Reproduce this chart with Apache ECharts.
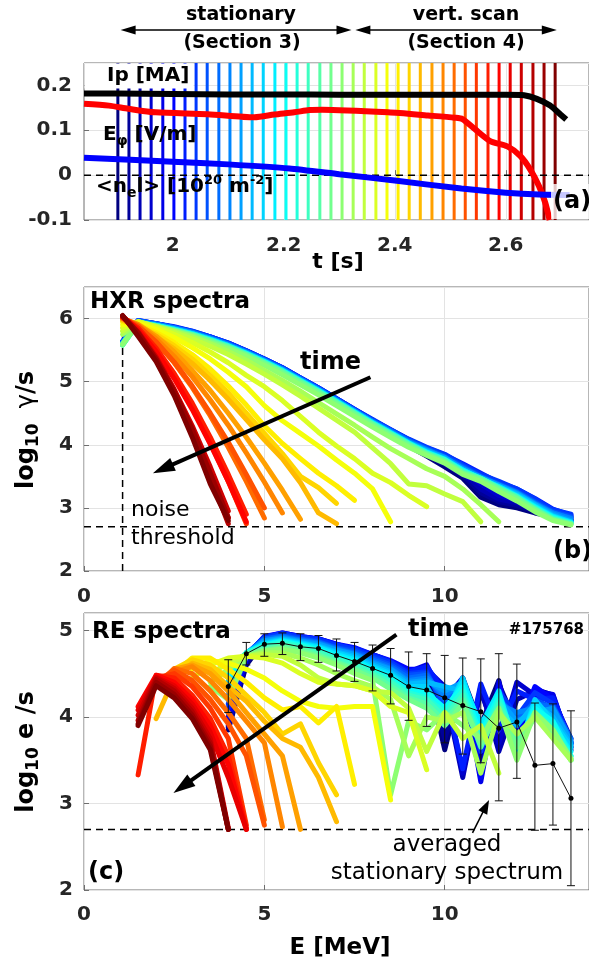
<!DOCTYPE html>
<html>
<head>
<meta charset="utf-8">
<script src="https://cdn.jsdelivr.net/npm/echarts@6/dist/echarts.min.js"></script>
<style>
  html, body { margin: 0; padding: 0; background: #fff; }
  #chart { width: 589px; height: 965px; }
</style>
</head>
<body>
<div id="chart"></div>
<script>
// ---------- (a) time traces ----------
const sampleTimes = [1.901, 1.921, 1.941, 1.961, 1.982, 2.002, 2.022, 2.042, 2.062, 2.083,
  2.103, 2.123, 2.143, 2.163, 2.184, 2.204, 2.224, 2.244, 2.265, 2.285,
  2.305, 2.325, 2.345, 2.366, 2.386, 2.406, 2.426, 2.446, 2.467, 2.487,
  2.507, 2.527, 2.547, 2.568, 2.588, 2.608, 2.628, 2.649, 2.669, 2.689];

const ipTime = [1.84, 1.90, 2.00, 2.10, 2.20, 2.30, 2.40, 2.50, 2.60, 2.633, 2.656, 2.680, 2.698, 2.709];
const ipVal  = [0.182, 0.182, 0.181, 0.180, 0.180, 0.179, 0.179, 0.179, 0.179, 0.178, 0.170, 0.155, 0.136, 0.124];

const efTime = [1.84, 1.885, 1.92, 1.969, 2.063, 2.147, 2.183, 2.219, 2.246, 2.269, 2.388, 2.46, 2.508, 2.522, 2.544, 2.572, 2.603, 2.626, 2.644, 2.66, 2.671, 2.679];
const efVal  = [0.159, 0.155, 0.148, 0.140, 0.136, 0.129, 0.135, 0.140, 0.145, 0.146, 0.140, 0.133, 0.128, 0.125, 0.103, 0.076, 0.064, 0.043, 0.013, -0.025, -0.061, -0.100];

const neTime = [1.84, 2.00, 2.10, 2.21, 2.30, 2.40, 2.52, 2.60, 2.66, 2.715];
const neVal  = [0.039, 0.030, 0.024, 0.015, 0.002, -0.012, -0.030, -0.039, -0.043, -0.044];

const stationaryRange = [1.906, 2.322];
const scanRange = [2.329, 2.692];

// ---------- (b) HXR spectra: log10 photons/s on a shared energy grid ----------
const hxrEnergy = [1.07, 1.5, 2, 2.5, 3, 3.5, 4, 4.5, 5, 5.5, 6, 6.5, 7, 7.5, 8, 8.5, 9, 9.5, 10, 10.5, 11, 11.5, 12, 12.5, 13, 13.5];
const hxrLog = [
  [5.62,5.95,5.88,5.82,5.75,5.66,5.55,5.43,5.30,5.16,5.00,4.84,4.67,4.50,4.32,4.15,3.98,3.82,3.65,3.47,3.17,3.05,3.00,2.92,2.86,2.82],
  [5.60,5.94,5.89,5.83,5.76,5.67,5.56,5.44,5.31,5.17,5.01,4.85,4.68,4.51,4.33,4.17,4.00,3.85,3.69,3.52,3.24,3.10,3.04,2.95,2.87,2.80],
  [5.61,5.95,5.89,5.83,5.76,5.67,5.57,5.45,5.32,5.18,5.02,4.86,4.69,4.52,4.35,4.18,4.02,3.87,3.72,3.56,3.30,3.14,3.08,2.97,2.86,2.78],
  [5.62,5.96,5.90,5.84,5.77,5.68,5.58,5.46,5.33,5.19,5.03,4.87,4.70,4.53,4.36,4.19,4.03,3.89,3.75,3.60,3.38,3.20,3.12,3.00,2.88,2.80],
  [5.63,5.96,5.91,5.86,5.79,5.70,5.60,5.48,5.35,5.21,5.05,4.89,4.72,4.55,4.38,4.22,4.07,3.93,3.80,3.66,3.50,3.35,3.24,3.08,2.93,2.84],
  [5.63,5.96,5.92,5.86,5.79,5.71,5.61,5.49,5.36,5.22,5.06,4.90,4.73,4.56,4.39,4.23,4.08,3.94,3.82,3.68,3.52,3.38,3.28,3.12,2.96,2.86],
  [5.64,5.97,5.92,5.87,5.80,5.71,5.61,5.49,5.36,5.22,5.06,4.90,4.73,4.56,4.39,4.24,4.08,3.95,3.84,3.70,3.55,3.40,3.30,3.15,2.98,2.88],
  [5.63,5.97,5.92,5.86,5.80,5.71,5.61,5.49,5.36,5.22,5.06,4.90,4.73,4.56,4.40,4.24,4.09,3.96,3.85,3.68,3.53,3.42,3.30,3.14,2.97,2.90],
  [5.62,5.96,5.92,5.86,5.79,5.70,5.60,5.48,5.35,5.21,5.05,4.89,4.72,4.55,4.38,4.23,4.07,3.94,3.82,3.66,3.50,3.38,3.26,3.10,2.94,2.86],
  [5.62,5.96,5.91,5.85,5.78,5.69,5.59,5.47,5.34,5.20,5.04,4.88,4.71,4.54,4.37,4.22,4.06,3.93,3.80,3.64,3.49,3.37,3.25,3.08,2.92,2.84],
  [5.61,5.95,5.91,5.85,5.78,5.69,5.59,5.47,5.34,5.20,5.04,4.88,4.71,4.54,4.37,4.21,4.05,3.92,3.79,3.63,3.49,3.36,3.24,3.07,2.92,2.83],
  [5.61,5.95,5.90,5.84,5.77,5.68,5.58,5.46,5.33,5.19,5.03,4.87,4.70,4.53,4.36,4.20,4.04,3.91,3.80,3.62,3.48,3.36,3.23,3.06,2.90,2.80],
  [5.60,5.94,5.89,5.83,5.76,5.67,5.57,5.45,5.32,5.18,5.02,4.86,4.69,4.52,4.35,4.19,4.03,3.90,3.78,3.60,3.46,3.34,3.22,3.05,2.88,2.78],
  [5.60,5.94,5.89,5.83,5.76,5.67,5.57,5.45,5.32,5.18,5.02,4.86,4.69,4.52,4.35,4.19,4.03,3.89,3.77,3.60,3.46,3.33,3.20,3.03,2.87,2.78],
  [5.60,5.94,5.89,5.83,5.76,5.67,5.57,5.45,5.32,5.18,5.02,4.86,4.69,4.52,4.35,4.19,4.03,3.88,3.76,3.60,3.46,3.34,3.19,3.02,2.86,2.77],
  [5.59,5.94,5.89,5.82,5.75,5.66,5.56,5.44,5.31,5.17,5.01,4.85,4.68,4.51,4.34,4.18,4.02,3.88,3.77,3.59,3.47,3.32,3.18,3.01,2.85,2.76],
  [5.59,5.93,5.89,5.82,5.75,5.66,5.56,5.44,5.31,5.17,5.01,4.85,4.68,4.51,4.34,4.18,4.02,3.87,3.76,3.58,3.46,3.31,3.17,3.00,2.84,2.76],
  [5.58,5.93,5.88,5.82,5.75,5.66,5.56,5.43,5.30,5.16,5.00,4.84,4.67,4.50,4.33,4.17,4.01,3.87,3.76,3.58,3.47,3.32,3.18,2.99,2.83,2.75],
  [5.58,5.93,5.88,5.81,5.74,5.65,5.55,5.43,5.30,5.16,5.00,4.84,4.67,4.50,4.33,4.17,4.01,3.86,3.74,3.56,3.46,3.31,3.16,2.98,2.82,2.75],
  [5.58,5.93,5.88,5.81,5.74,5.64,5.54,5.42,5.29,5.14,4.98,4.82,4.65,4.48,4.31,4.15,3.99,3.85,3.73,3.55,3.45,3.29,3.15,2.97,2.81,2.74],
  [5.60,5.93,5.87,5.80,5.72,5.62,5.52,5.40,5.26,5.11,4.95,4.79,4.62,4.45,4.28,4.12,3.96,3.83,3.71,3.53,3.42,3.26,3.11,2.94,2.80,2.73],
  [5.75,5.95,5.88,5.80,5.71,5.60,5.48,5.34,5.18,5.02,4.85,4.67,4.49,4.31,4.12,3.94,3.78,3.62,3.50,3.30,3.05,2.78],
  [5.80,5.95,5.87,5.78,5.68,5.56,5.43,5.28,5.12,4.95,4.77,4.58,4.39,4.20,3.95,3.70,3.38,3.35,3.22,3.10,2.78],
  [5.85,5.95,5.86,5.75,5.62,5.47,5.30,5.10,4.92,4.70,4.45,4.20,3.98,3.78,3.55,3.40,3.20,3.02],
  [5.90,5.93,5.83,5.70,5.54,5.36,5.15,4.92,4.62,4.38,4.18,3.98,3.76,3.55,3.30,2.78],
  [5.95,5.90,5.78,5.62,5.43,5.20,4.93,4.63,4.30,4.02,3.78,3.55,3.35,3.12],
  [5.97,5.88,5.75,5.57,5.36,5.10,4.82,4.50,4.18,3.86,3.50,3.32,3.07],
  [5.98,5.86,5.71,5.52,5.29,5.02,4.72,4.40,4.08,3.78,3.40,2.92,2.75],
  [6.00,5.91,5.72,5.47,5.18,4.86,4.50,4.12,3.71,3.28,2.82],
  [6.00,5.90,5.68,5.40,5.08,4.71,4.31,3.87,3.41,2.92],
  [6.01,5.88,5.63,5.30,4.91,4.46,3.96,3.42,2.84],
  [6.01,5.88,5.63,5.31,4.93,4.50,4.04,3.53,3.00],
  [6.02,5.84,5.51,5.09,4.59,4.03,3.42,2.75],
  [6.02,5.85,5.53,5.13,4.66,4.12,3.53,2.90],
  [6.03,5.82,5.48,5.05,4.56,4.01,3.42,2.78],
  [6.03,5.78,5.37,4.84,4.24,3.56,2.84],
  [6.03,5.79,5.39,4.88,4.30,3.65,2.95],
  [6.04,5.78,5.35,4.81,4.19,3.49,2.75],
  [6.04,5.77,5.36,4.85,4.25,3.55,2.85],
  [6.05,5.72,5.32,4.78,4.12,3.38,2.80]
];
const hxrCutoff = 1.07;   // lower energy limit of the HXR spectra [MeV]
const noiseLevel = 2.7;   // log10 noise threshold

// ---------- (c) RE spectra: each starts at reStart on the reEnergy grid ----------
const reEnergy = [1.5, 2, 2.5, 3, 3.5, 4, 4.5, 5, 5.5, 6, 6.5, 7, 7.5, 8, 8.5, 9, 9.5, 10, 10.5, 11, 11.5, 12, 12.5, 13, 13.5];
const reStart = [4,4,4,4,4,4,4,4,4,4, 4,4,4,4,4,4,4,4,4,4,
  3.5,3.5,3.5,3,3,2.5,2.5,2,2.5,2.5, 2,2,2,1.5,1.5,1.5,1.5,1.5,1.5,1.5];
const reLog = [
  [3.85,4.60,4.88,4.93,4.90,4.87,4.80,4.75,4.68,4.60,4.52,4.55,3.62,4.45,3.90,4.42,3.55,4.32,4.25,3.65],
  [3.88,4.62,4.90,4.94,4.90,4.88,4.80,4.76,4.68,4.62,4.50,4.58,3.75,4.40,3.45,4.38,3.90,4.28,4.22,3.70],
  [3.90,4.65,4.90,4.95,4.92,4.88,4.82,4.76,4.70,4.60,4.48,4.56,4.30,3.30,4.35,3.60,4.20,4.30,4.20,3.75],
  [3.95,4.66,4.91,4.96,4.92,4.90,4.82,4.78,4.70,4.62,4.50,4.55,4.35,3.35,4.30,3.70,4.40,4.25,4.18,3.62],
  [4.00,4.68,4.92,4.97,4.93,4.90,4.84,4.78,4.72,4.64,4.52,4.60,4.20,4.45,3.25,4.40,3.60,4.30,4.26,3.65],
  [4.05,4.70,4.93,4.97,4.93,4.90,4.84,4.80,4.72,4.65,4.55,4.55,4.25,4.40,3.30,4.35,3.80,4.35,4.20,3.70],
  [4.10,4.72,4.92,4.96,4.92,4.90,4.83,4.79,4.72,4.64,4.52,4.58,4.30,3.40,4.38,3.85,4.30,4.20,4.22,3.72],
  [4.15,4.72,4.92,4.96,4.92,4.89,4.83,4.78,4.70,4.63,4.50,4.52,4.10,4.42,3.60,4.30,4.00,4.28,4.15,3.68],
  [4.20,4.72,4.90,4.94,4.90,4.87,4.80,4.76,4.68,4.60,4.48,4.50,4.15,4.35,3.70,4.25,3.90,4.20,4.10,3.70],
  [4.25,4.73,4.90,4.93,4.89,4.86,4.79,4.74,4.66,4.58,4.45,4.48,4.20,4.30,3.80,4.20,4.00,4.15,4.12,3.75],
  [4.30,4.73,4.88,4.92,4.88,4.85,4.78,4.73,4.64,4.56,4.42,4.45,4.25,4.38,3.85,4.15,4.05,4.10,4.05,3.70],
  [4.35,4.74,4.88,4.91,4.87,4.84,4.77,4.72,4.62,4.55,4.40,4.42,4.30,4.40,3.90,4.20,3.95,4.05,4.10,3.72],
  [4.40,4.74,4.86,4.90,4.86,4.82,4.75,4.70,4.60,4.52,4.38,4.40,4.35,4.30,3.95,4.10,3.90,4.15,4.00,3.68],
  [4.42,4.74,4.85,4.89,4.85,4.81,4.74,4.68,4.58,4.50,4.35,4.35,4.00,4.45,3.85,4.25,3.55,4.20,3.95,3.65],
  [4.45,4.74,4.84,4.88,4.84,4.80,4.72,4.66,4.56,4.48,4.32,4.30,4.05,4.40,3.90,4.30,3.60,4.15,3.90,3.60],
  [4.50,4.74,4.83,4.87,4.83,4.78,4.70,4.64,4.54,4.45,4.30,4.28,4.10,4.35,3.80,4.25,3.65,4.10,3.95,3.55],
  [4.55,4.74,4.82,4.86,4.82,4.77,4.68,4.62,4.52,4.42,4.28,4.22,4.05,4.30,3.75,4.20,3.70,4.05,3.90,3.55],
  [4.58,4.73,4.80,4.84,4.80,4.75,4.66,4.60,4.50,4.40,4.25,4.20,4.00,4.25,3.70,4.15,3.75,4.00,3.85,3.50],
  [4.60,4.72,4.78,4.82,4.78,4.72,4.64,4.56,4.48,4.36,4.22,4.15,3.95,4.20,3.65,4.10,3.70,4.05,3.80,3.52],
  [4.62,4.72,4.77,4.80,4.76,4.70,4.62,4.54,4.45,4.32,4.20,4.10,3.90,4.15,3.70,4.05,3.65,4.00,3.85,3.50],
  [4.35,4.20,4.70,4.76,4.78,4.74,4.68,4.60,4.50,4.42,3.10,3.95,3.85,4.05,3.90,3.75,4.10,3.50,4.05,3.85,3.52],
  [4.40,4.55,4.70,4.74,4.74,4.68,4.60,4.50,4.42,4.35,4.20,3.55,4.00,3.95,4.05,3.35,4.05,3.80,4.00,3.75,3.50],
  [4.50,4.62,4.70,4.72,4.70,4.60,4.45,4.38,4.36,4.30,4.28,4.10,3.60,4.05,3.75,3.90,3.35],
  [4.45,4.60,4.68,4.70,4.68,4.62,4.50,4.40,4.38,4.36,4.30,4.12,4.05,3.39],
  [4.55,4.65,4.62,4.55,4.45,4.30,4.18,4.12,4.10,4.12,4.12,3.04],
  [4.50,4.68,4.68,4.55,4.40,4.22,4.08,4.12,3.93,4.12,3.22],
  [4.55,4.66,4.60,4.45,4.25,4.05,3.80,3.92,3.47,3.10],
  [3.98,4.45,4.62,4.55,4.35,4.18,3.95,3.75,3.65,3.30,2.79],
  [4.55,4.60,4.50,4.30,4.05,3.80,3.55,2.70],
  [4.52,4.58,4.42,4.20,3.95,3.70,2.73],
  [4.35,4.56,4.50,4.30,4.05,3.75,2.81],
  [4.40,4.54,4.42,4.20,3.92,3.55,2.75],
  [4.45,4.50,4.35,4.10,3.75,2.75],
  [3.33,4.48,4.45,4.25,3.98,3.55,2.72],
  [4.12,4.48,4.40,4.20,3.90,3.45,2.70],
  [4.08,4.46,4.36,4.15,3.82,3.30,2.70],
  [4.02,4.45,4.33,4.10,3.75,2.72],
  [3.96,4.43,4.30,4.06,3.70,2.70],
  [3.92,4.40,4.26,4.02,3.66,2.70],
  [3.90,4.36,4.22,3.98,3.62,2.70]
];

// averaged stationary RE spectrum with spread
const avgEnergy = [4, 4.5, 5, 5.5, 6, 6.5, 7, 7.5, 8, 8.5, 9, 9.5, 10, 10.5, 11, 11.5, 12, 12.5, 13, 13.5];
const avgLog  = [4.35,4.73,4.84,4.85,4.81,4.79,4.71,4.64,4.56,4.48,4.35,4.31,4.22,4.13,4.06,3.87,3.94,3.44,3.46,3.06];
const avgLow  = [4.05,4.60,4.70,4.72,4.65,4.63,4.53,4.41,4.30,4.15,3.96,3.89,3.70,3.57,3.47,3.03,3.29,2.69,2.75,2.05];
const avgHigh = [4.66,4.86,4.96,4.97,4.96,4.94,4.90,4.86,4.83,4.79,4.75,4.73,4.71,4.68,4.67,4.73,4.61,4.16,4.15,4.07];

// ---------- styling ----------
const FONT = 'DejaVu Sans';
const TXT = '#262626';
const GRIDLINE = '#e3e3e3';
const BOX = '#6e6e6e';

function jet(f) {
  const c = v => Math.round(255 * Math.max(0, Math.min(1, v)));
  return 'rgb(' + c(1.5 - Math.abs(4 * f - 3)) + ',' + c(1.5 - Math.abs(4 * f - 2)) + ',' + c(1.5 - Math.abs(4 * f - 1)) + ')';
}
const nCurves = sampleTimes.length;
const colorOf = i => jet(i / (nCurves - 1));

const tickLabel = { color: TXT, fontFamily: FONT, fontWeight: 'bold', fontSize: 20 };
const innerTick = { show: true, inside: true, length: 5, lineStyle: { color: BOX } };
const split = { show: true, lineStyle: { color: GRIDLINE, width: 1 } };

const series = [];
const plain = (extra) => Object.assign({ type: 'line', symbol: 'none', silent: true, animation: false }, extra);

// (a) sample markers
sampleTimes.forEach((t, i) => series.push(plain({
  xAxisIndex: 0, yAxisIndex: 0, z: 1,
  data: [[t, -0.1], [t, 0.25]],
  lineStyle: { color: colorOf(i), width: 3 }
})));
series.push(plain({ xAxisIndex: 0, yAxisIndex: 0, z: 2, data: [[1.84, 0], [2.75, 0]],
  lineStyle: { color: '#000', width: 1.5, type: [7, 5] } }));
series.push(plain({ xAxisIndex: 0, yAxisIndex: 0, z: 3, smooth: 0.2, data: ipTime.map((t, k) => [t, ipVal[k]]),
  lineStyle: { color: '#000', width: 6 } }));
series.push(plain({ xAxisIndex: 0, yAxisIndex: 0, z: 3, smooth: 0.25, data: efTime.map((t, k) => [t, efVal[k]]),
  lineStyle: { color: '#ff0000', width: 6 } }));
series.push(plain({ xAxisIndex: 0, yAxisIndex: 0, z: 3, smooth: 0.2, data: neTime.map((t, k) => [t, neVal[k]]),
  lineStyle: { color: '#0000ff', width: 6 } }));

// (b) HXR spectra
hxrLog.forEach((vals, i) => series.push(plain({
  xAxisIndex: 1, yAxisIndex: 1, z: 2,
  data: vals.map((v, k) => [hxrEnergy[k], v]),
  lineStyle: { color: colorOf(i), width: 5, cap: 'round', join: 'round' }
})));
series.push(plain({ xAxisIndex: 1, yAxisIndex: 1, z: 1, data: [[0, noiseLevel], [14, noiseLevel]],
  lineStyle: { color: '#000', width: 1.5, type: [7, 5] } }));
series.push(plain({ xAxisIndex: 1, yAxisIndex: 1, z: 1, data: [[hxrCutoff, 2], [hxrCutoff, 6.05]],
  lineStyle: { color: '#000', width: 1.5, type: [7, 5] } }));

// (c) RE spectra
reLog.forEach((vals, i) => {
  const k0 = reEnergy.indexOf(reStart[i]);
  series.push(plain({
    xAxisIndex: 2, yAxisIndex: 2, z: 2,
    data: vals.map((v, k) => [reEnergy[k0 + k], v]),
    lineStyle: { color: colorOf(i), width: 5, cap: 'round', join: 'round' }
  }));
});
series.push(plain({ xAxisIndex: 2, yAxisIndex: 2, z: 1, data: [[0, noiseLevel], [14, noiseLevel]],
  lineStyle: { color: '#000', width: 1.5, type: [7, 5] } }));
series.push({
  type: 'custom', xAxisIndex: 2, yAxisIndex: 2, z: 5, silent: true, animation: false,
  data: avgEnergy.map((e, k) => [e, avgLow[k], avgHigh[k]]),
  encode: { x: 0, y: [1, 2] },
  renderItem: (params, api) => {
    const e = api.value(0);
    const lo = api.coord([e, api.value(1)]);
    const hi = api.coord([e, api.value(2)]);
    const w = 4, st = { stroke: '#111', lineWidth: 1 };
    return { type: 'group', children: [
      { type: 'line', shape: { x1: lo[0], y1: lo[1], x2: hi[0], y2: hi[1] }, style: st },
      { type: 'line', shape: { x1: lo[0] - w, y1: lo[1], x2: lo[0] + w, y2: lo[1] }, style: st },
      { type: 'line', shape: { x1: hi[0] - w, y1: hi[1], x2: hi[0] + w, y2: hi[1] }, style: st }
    ] };
  }
});
series.push({ type: 'line', xAxisIndex: 2, yAxisIndex: 2, z: 6, silent: true, animation: false,
  data: avgEnergy.map((e, k) => [e, avgLog[k]]),
  symbol: 'circle', symbolSize: 5, itemStyle: { color: '#000' },
  lineStyle: { color: '#111', width: 1 } });

const gridBox = { show: true, borderColor: BOX, borderWidth: 1, backgroundColor: '#fff' };

const option = {
  animation: false,
  backgroundColor: '#fff',
  grid: [
    Object.assign({ left: 84, top: 63, width: 510, height: 157 }, gridBox),
    Object.assign({ left: 84, top: 287, width: 510, height: 284 }, gridBox),
    Object.assign({ left: 84, top: 613, width: 510, height: 277 }, gridBox)
  ],
  xAxis: [
    { gridIndex: 0, type: 'value', min: 1.84, max: 2.75,
      axisLine: { show: false },
      axisTick: Object.assign({}, innerTick, { customValues: [2, 2.2, 2.4, 2.6] }),
      axisLabel: Object.assign({}, tickLabel, { margin: 16, customValues: [2, 2.2, 2.4, 2.6] }),
      splitLine: split },
    { gridIndex: 1, type: 'value', min: 0, max: 14, interval: 5,
      axisLine: { show: false }, axisTick: innerTick,
      axisLabel: Object.assign({}, tickLabel, { margin: 16, showMaxLabel: false }), splitLine: split },
    { gridIndex: 2, type: 'value', min: 0, max: 14, interval: 5,
      axisLine: { show: false }, axisTick: innerTick,
      axisLabel: Object.assign({}, tickLabel, { margin: 15, showMaxLabel: false }), splitLine: split }
  ],
  yAxis: [
    { gridIndex: 0, type: 'value', min: -0.1, max: 0.25, interval: 0.1,
      axisLine: { show: false }, axisTick: innerTick,
      axisLabel: Object.assign({}, tickLabel, { margin: 12, showMaxLabel: false }), splitLine: split },
    { gridIndex: 1, type: 'value', min: 2, max: 6.5, interval: 1,
      axisLine: { show: false }, axisTick: innerTick,
      axisLabel: Object.assign({}, tickLabel, { margin: 11, showMaxLabel: false }), splitLine: split },
    { gridIndex: 2, type: 'value', min: 2, max: 5.2, interval: 1,
      axisLine: { show: false }, axisTick: innerTick,
      axisLabel: Object.assign({}, tickLabel, { margin: 11, showMaxLabel: false }), splitLine: split }
  ],
  series: series
};

const chart = echarts.init(document.getElementById('chart'), null, { renderer: 'canvas' });
chart.setOption(option);

// ---------- annotations ----------
const px = (g, p) => chart.convertToPixel({ gridIndex: g }, p);

function headAt(tip, from, len, half) {
  const dx = tip[0] - from[0], dy = tip[1] - from[1], d = Math.hypot(dx, dy);
  const ux = dx / d, uy = dy / d;
  const bx = tip[0] - ux * len, by = tip[1] - uy * len;
  return { base: [bx + ux * 2, by + uy * 2],
    poly: { type: 'polygon', z: 60, shape: { points: [tip, [bx - uy * half, by + ux * half], [bx + uy * half, by - ux * half]] }, style: { fill: '#000' } } };
}
function arrow(p0, p1, width, len, half) {
  const h = headAt(p1, p0, len, half);
  return [{ type: 'line', z: 60, shape: { x1: p0[0], y1: p0[1], x2: h.base[0], y2: h.base[1] }, style: { stroke: '#000', lineWidth: width } }, h.poly];
}
function doubleArrow(p0, p1, width, len, half) {
  const a = headAt(p1, p0, len, half), b = headAt(p0, p1, len, half);
  return [{ type: 'line', z: 60, shape: { x1: b.base[0], y1: b.base[1], x2: a.base[0], y2: a.base[1] }, style: { stroke: '#000', lineWidth: width } }, a.poly, b.poly];
}
function label(x, y, text, opts) {
  return Object.assign({ type: 'text', z: 70, x: x, y: y,
    style: Object.assign({ text: text, fontFamily: FONT, fontSize: 20, fontWeight: 'bold', fill: '#000', align: 'left', verticalAlign: 'middle' }, opts || {}) });
}
const tok = (size, weight, color, pad) => ({ fontFamily: FONT, fontSize: size, fontWeight: weight, color: color, padding: pad || [0, 0, 0, 0] });

const arrowY = 30;
const sX0 = px(0, [stationaryRange[0], 0])[0], sX1 = px(0, [stationaryRange[1], 0])[0];
const vX0 = px(0, [scanRange[0], 0])[0], vX1 = px(0, [scanRange[1], 0])[0];

const graphics = [];
// header
graphics.push(label(241, 15, 'stationary', { align: 'center', fontSize: 19 }));
graphics.push(label(242, 43, '(Section 3)', { align: 'center', fontSize: 19 }));
graphics.push(label(466, 15, 'vert. scan', { align: 'center', fontSize: 19 }));
graphics.push(label(466, 43, '(Section 4)', { align: 'center', fontSize: 19 }));
graphics.push(...doubleArrow([sX0, arrowY], [sX1, arrowY], 1.5, 15, 4.5));
graphics.push(...doubleArrow([vX0, arrowY], [vX1, arrowY], 1.5, 15, 4.5));

// panel (a)
graphics.push({ type: 'rect', z: 55, shape: { x: 84.5, y: 63.5, width: 109, height: 25 }, style: { fill: '#fff' } });
graphics.push(label(107, 76, 'Ip [MA]'));
graphics.push(label(103, 135, '{m|E}{s|φ}{m| [V/m]}', { rich: {
  m: tok(20, 'bold', '#ff0000'), s: tok(14, 'bold', '#ff0000', [12, 0, 0, 0]) } }));
graphics.push(label(96, 187, '{m|<n}{s|e}{m|l> [10}{p|20}{m| m}{p|-2}{m|]}', { rich: {
  m: tok(20, 'bold', '#0000ff'), s: tok(14, 'bold', '#0000ff', [12, 0, 0, 0]), p: tok(13, 'bold', '#0000ff', [0, 0, 12, 0]) } }));
graphics.push({ type: 'rect', z: 55, shape: { x: 551, y: 184, width: 40, height: 35 }, style: { fill: 'rgba(255,255,255,0.78)' } });
graphics.push(label(553, 202, '(a)', { fontSize: 24 }));
graphics.push(label(338, 262, 't [s]', { align: 'center', fontSize: 22 }));

// panel (b)
graphics.push(label(90, 302, 'HXR spectra', { fontSize: 23 }));
graphics.push(label(300, 363, 'time', { fontSize: 24 }));
graphics.push(label(131, 510, 'noise', { fontSize: 22, fontWeight: 'normal' }));
graphics.push(label(131, 538, 'threshold', { fontSize: 22, fontWeight: 'normal' }));
graphics.push(label(553, 552, '(b)', { fontSize: 24 }));
graphics.push(...arrow(px(1, [7.94, 5.07]), px(1, [1.91, 3.55]), 4, 22, 7));
graphics.push(Object.assign(label(27, 430, '{m|log}{s|10}{g|  γ}{m|/s}', { align: 'center', rich: {
  m: tok(24, 'bold', TXT), s: tok(17, 'bold', TXT, [14, 0, 0, 0]), g: tok(24, 'normal', TXT) } }), { rotation: Math.PI / 2 }));

// panel (c)
graphics.push(label(92, 632, 'RE spectra', { fontSize: 23 }));
graphics.push(label(408, 630, 'time', { fontSize: 24 }));
graphics.push(label(584, 630, '#175768', { fontSize: 15, align: 'right' }));
graphics.push(label(88, 873, '(c)', { fontSize: 24 }));
graphics.push(label(447, 845, 'averaged', { align: 'center', fontSize: 23, fontWeight: 'normal' }));
graphics.push(label(447, 873, 'stationary spectrum', { align: 'center', fontSize: 23, fontWeight: 'normal' }));
graphics.push(...arrow(px(2, [8.66, 4.95]), px(2, [2.48, 3.12]), 4, 22, 7));
graphics.push(...arrow(px(2, [10.77, 2.66]), px(2, [11.23, 3.04]), 1.5, 14, 5));
graphics.push(Object.assign(label(27, 752, '{m|log}{s|10}{m| e /s}', { align: 'center', rich: {
  m: tok(24, 'bold', TXT), s: tok(17, 'bold', TXT, [14, 0, 0, 0]) } }), { rotation: Math.PI / 2 }));
graphics.push(label(340, 948, 'E [MeV]', { align: 'center', fontSize: 23 }));

chart.setOption({ graphic: { elements: graphics } });
</script>
</body>
</html>
